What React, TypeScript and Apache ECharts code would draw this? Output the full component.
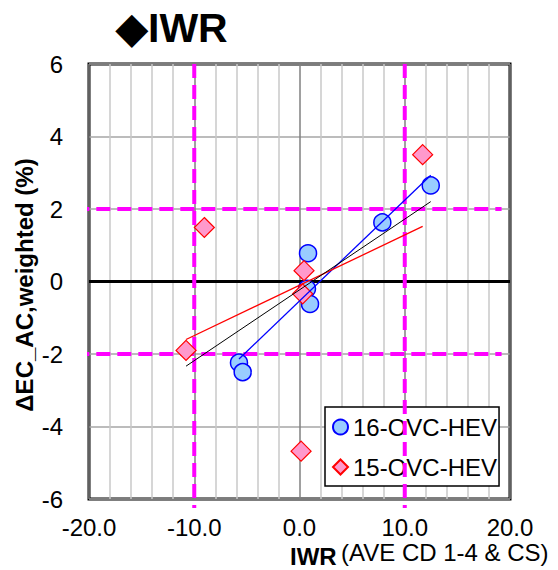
import React, { useEffect, useRef } from "react";
import * as echarts from "echarts";

// ---- data ----
const seriesNames = ["16-OVC-HEV", "15-OVC-HEV"];
const ovc16X = [12.47, 7.87, 0.81, 0.71, 1.0, -5.75, -5.4];
const ovc16Y = [2.65, 1.63, 0.78, -0.2, -0.62, -2.24, -2.5];
const ovc15X = [11.7, -9.04, 0.43, 0.3, -10.78, 0.15];
const ovc15Y = [3.5, 1.49, 0.3, -0.34, -1.9, -4.68];
const xTickValues = [-20, -10, 0, 10, 20];
const yTickValues = [-6, -4, -2, 0, 2, 4, 6];
const guideX = [-10, 10];
const guideY = [-2, 2];

function pairs(xs: number[], ys: number[]) {
  return xs.map((x, i) => [x, ys[i]]);
}

// least-squares trend line over the x range of the data
function trend(xs: number[], ys: number[]) {
  const n = xs.length;
  const mx = xs.reduce((a, b) => a + b, 0) / n;
  const my = ys.reduce((a, b) => a + b, 0) / n;
  let sxy = 0;
  let sxx = 0;
  for (let i = 0; i < n; i++) {
    sxy += (xs[i] - mx) * (ys[i] - my);
    sxx += (xs[i] - mx) * (xs[i] - mx);
  }
  const b = sxy / sxx;
  const a = my - b * mx;
  const lo = Math.min(...xs);
  const hi = Math.max(...xs);
  return [
    [lo, a + b * lo],
    [hi, a + b * hi],
  ];
}

const FONT = "Arial, 'Liberation Sans', sans-serif";

export default function App() {
  const ref = useRef<HTMLDivElement>(null);

  useEffect(() => {
    if (!ref.current) return;
    const chart = echarts.init(ref.current, undefined, { renderer: "svg" });
    const xMin = xTickValues[0];
    const xMax = xTickValues[xTickValues.length - 1];
    const yMin = yTickValues[0];
    const yMax = yTickValues[yTickValues.length - 1];

    const magenta = {
      type: "line",
      silent: true,
      symbol: "none",
      clip: false,
      z: 3,
      lineStyle: { color: "#ff00ff", width: 4, type: [14, 7] },
    };

    const magentaSeries: any[] = [
      ...guideX.map((gx) => ({
        ...magenta,
        data: [
          [gx, yMax],
          [gx, yMin - 0.25],
        ],
      })),
      ...guideY.map((gy) => ({
        ...magenta,
        data: [
          [xMin - 1.3, gy],
          [xMax - 0.8, gy],
        ],
      })),
    ];

    const allX = [...ovc16X, ...ovc15X];
    const allY = [...ovc16Y, ...ovc15Y];

    chart.setOption({
      animation: false,
      backgroundColor: "#ffffff",
      grid: {
        left: 89,
        top: 64,
        width: 421,
        height: 435,
        show: true,
        borderColor: "#000000",
        borderWidth: 3,
        backgroundColor: "transparent",
      },
      xAxis: {
        type: "value",
        min: xMin,
        max: xMax,
        interval: 10,
        axisLine: { show: false },
        axisTick: { show: false },
        minorTick: { show: false, splitNumber: 5 },
        minorSplitLine: { show: true, lineStyle: { color: "#c8c8c8", width: 1.5 } },
        splitLine: { show: true, lineStyle: { color: "#808080", width: 1.5 } },
        axisLabel: {
          margin: 17,
          fontSize: 24,
          lineHeight: 22,
          fontFamily: FONT,
          color: "#000",
          formatter: (v: number) => v.toFixed(1),
        },
      },
      yAxis: {
        type: "value",
        min: yMin,
        max: yMax,
        interval: 2,
        axisLine: { show: false },
        axisTick: { show: false },
        splitLine: { show: true, lineStyle: { color: "#a6a6a6", width: 1.5 } },
        axisLabel: {
          margin: 26,
          fontSize: 24,
          fontFamily: FONT,
          color: "#000",
        },
      },
      legend: {
        data: seriesNames,
        orient: "vertical",
        left: 325,
        top: 407,
        z: 1,
        backgroundColor: "#ffffff",
        borderColor: "#000000",
        borderWidth: 1.5,
        borderRadius: 0,
        padding: [8, 2, 7, 7],
        itemGap: 16,
        itemWidth: 15,
        itemHeight: 15,
        textStyle: { fontSize: 24, fontFamily: FONT, color: "#000" },
        selectedMode: false,
      },
      graphic: [
        {
          type: "text",
          x: 116,
          y: 28,
          style: {
            text: "◆IWR",
            font: `bold 41px ${FONT}`,
            fill: "#000",
            textAlign: "left",
            textVerticalAlign: "middle",
          },
        },
        {
          type: "text",
          x: 24,
          y: 285,
          rotation: Math.PI / 2,
          style: {
            text: "ΔEC_AC,weighted (%)",
            font: `bold 24px ${FONT}`,
            fill: "#000",
            textAlign: "center",
            textVerticalAlign: "middle",
          },
        },
        {
          type: "text",
          x: 290,
          y: 556,
          style: {
            text: "IWR",
            font: `bold 24px ${FONT}`,
            lineHeight: 22,
            fill: "#000",
            textAlign: "left",
            textVerticalAlign: "middle",
          },
        },
        {
          type: "text",
          x: 341,
          y: 552,
          style: {
            text: "(AVE CD 1-4 & CS)",
            font: `24px ${FONT}`,
            lineHeight: 22,
            fill: "#000",
            textAlign: "left",
            textVerticalAlign: "middle",
          },
        },
      ],
      series: [
        {
          type: "line",
          silent: true,
          symbol: "none",
          z: 2,
          data: [
            [xMin, 0],
            [xMax, 0],
          ],
          lineStyle: { color: "#000", width: 3 },
        },
        ...magentaSeries,
        {
          name: seriesNames[0],
          type: "scatter",
          z: 4,
          symbol: "circle",
          symbolSize: 17,
          data: pairs(ovc16X, ovc16Y),
          itemStyle: { color: "#99ccff", borderColor: "#0000ff", borderWidth: 1.5, opacity: 1 },
        },
        {
          name: seriesNames[1],
          type: "scatter",
          z: 4,
          symbol: "diamond",
          symbolSize: 20,
          data: pairs(ovc15X, ovc15Y),
          itemStyle: { color: "#ff99cc", borderColor: "#ff0000", borderWidth: 1.2, opacity: 1 },
        },
        {
          type: "line",
          silent: true,
          symbol: "none",
          z: 5,
          data: trend(ovc16X, ovc16Y),
          lineStyle: { color: "#0000ff", width: 1.3 },
        },
        {
          type: "line",
          silent: true,
          symbol: "none",
          z: 5,
          data: trend(ovc15X, ovc15Y),
          lineStyle: { color: "#ff0000", width: 1.3 },
        },
        {
          type: "line",
          silent: true,
          symbol: "none",
          z: 5,
          data: trend(allX, allY),
          lineStyle: { color: "#000000", width: 1 },
        },
      ],
    });
    return () => chart.dispose();
  }, []);

  return (
    <div
      ref={ref}
      style={{ position: "fixed", left: 0, top: 0, width: 558, height: 570, background: "#fff" }}
    />
  );
}
